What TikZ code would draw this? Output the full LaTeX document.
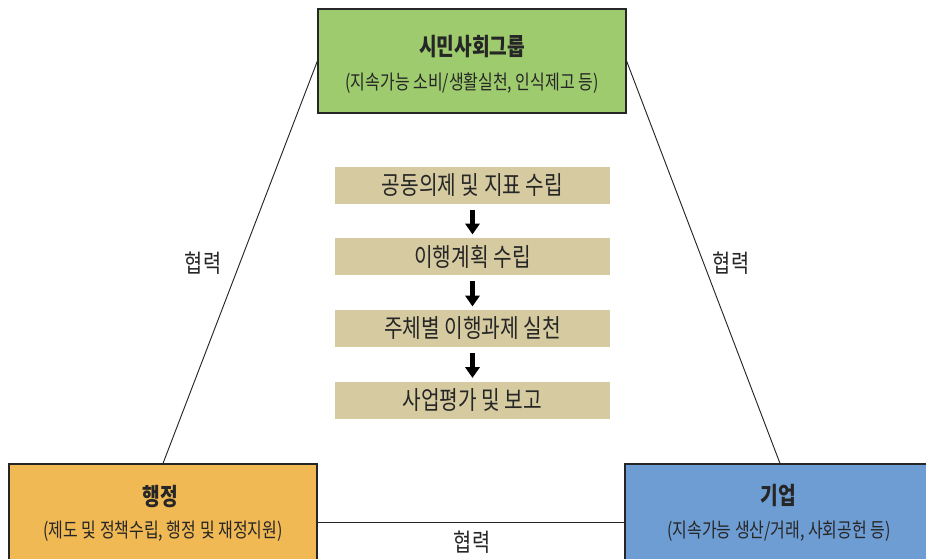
\documentclass[tikz,border=0pt]{standalone}
\usepackage{fontspec}
\usetikzlibrary{arrows.meta,calc}
\newfontfamily\kr[FakeStretch=0.8]{Noto Sans CJK KR}
\definecolor{civgreen}{HTML}{9DCB6E}
\definecolor{admorange}{HTML}{F0B954}
\definecolor{bizblue}{HTML}{6E9DD3}
\definecolor{steptan}{HTML}{D6CBA0}
\definecolor{inkgray}{HTML}{262626}
\tikzset{
  groupbox/.style={draw=inkgray, line width=0.9pt, inner sep=0pt},
  stepbox/.style={fill=steptan, draw=none, minimum width=275*0.75pt, minimum height=37*0.75pt, inner sep=0pt,
    font=\kr\fontsize{19pt}{21pt}\selectfont, text=inkgray},
  titletext/.style={font=\kr\bfseries\fontsize{18pt}{20pt}\selectfont, text=inkgray, inner sep=0pt},
  subtext/.style={font=\kr\fontsize{15pt}{17pt}\selectfont, text=inkgray, inner sep=0pt},
  coop/.style={font=\kr\fontsize{18.5pt}{20pt}\selectfont, text=inkgray, inner sep=0pt},
  link/.style={draw=inkgray, line width=0.7pt},
  bigarrow/.style={draw=black, line width=3.4pt, -{Triangle[width=10.5pt,length=8pt]}}
}
\begin{document}
\begin{tikzpicture}[x=0.75pt,y=-0.75pt]
\useasboundingbox (0,0) rectangle (926,558);
\clip (0,0) rectangle (926,558);
\fill[white] (0,0) rectangle (926,558);
% group boxes
\node[groupbox, fill=civgreen, minimum width=308*0.75pt, minimum height=104*0.75pt] (civil) at (472,61) {};
\node[groupbox, fill=admorange, minimum width=308*0.75pt, minimum height=116*0.75pt] (admin) at (163,522) {};
\node[groupbox, fill=bizblue, minimum width=310*0.75pt, minimum height=116*0.75pt] (biz) at (780,522) {};
% texts in boxes
\node[titletext] (civilT) at (472,47) {시민사회그룹};
\node[subtext] (civilS) at (472,83) {(지속가능 소비/생활실천, 인식제고 등)};
\node[titletext] (adminT) at (160,497) {행정};
\node[subtext] (adminS) at (163,531) {(제도 및 정책수립, 행정 및 재정지원)};
\node[titletext] (bizT) at (778,495) {기업};
\node[subtext] (bizS) at (779,531) {(지속가능 생산/거래, 사회공헌 등)};
% connectors
\draw[link] (civil.west) -- (admin.north);
\draw[link] (civil.east) -- (biz.north);
\draw[link] (admin.east) -- (biz.west);
\node[coop] (coopL) at (203,263) {협력};
\node[coop] (coopR) at (731,263) {협력};
\node[coop] (coopB) at (472,542) {협력};
% steps
\node[stepbox] (s1) at (472.5,185.5) {공동의제 및 지표 수립};
\node[stepbox] (s2) at (472.5,256.5) {이행계획 수립};
\node[stepbox] (s3) at (472.5,328.5) {주체별 이행과제 실천};
\node[stepbox] (s4) at (472.5,400) {사업평가 및 보고};
\draw[bigarrow] ([yshift=-4.5pt]s1.south) -- ([yshift=2.5pt]s2.north);
\draw[bigarrow] ([yshift=-4.5pt]s2.south) -- ([yshift=2.5pt]s3.north);
\draw[bigarrow] ([yshift=-4.5pt]s3.south) -- ([yshift=2.5pt]s4.north);
\end{tikzpicture}
\end{document}
